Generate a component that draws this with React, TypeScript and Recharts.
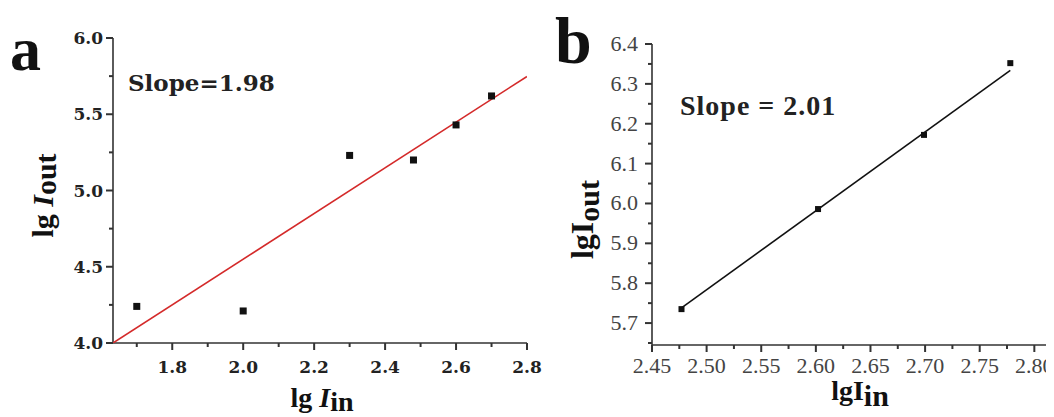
import React from 'react';
import { Label, Scatter, ScatterChart, XAxis, YAxis } from 'recharts';

// panel a: six measurements and the fitted red line
const aLgIn = [1.70, 2.00, 2.30, 2.48, 2.60, 2.70];
const aLgOut = [4.24, 4.21, 5.23, 5.20, 5.43, 5.62];
const aFitIn = [1.633, 2.8];
const aFitOut = [4.0, 5.748];
const aXMajor = [1.8, 2.0, 2.2, 2.4, 2.6, 2.8];
const aXMinor = [1.7, 1.9, 2.1, 2.3, 2.5, 2.7];
const aYMajor = [4.0, 4.5, 5.0, 5.5, 6.0];
const aYMinor = [4.25, 4.75, 5.25, 5.75];

// panel b: four measurements and the fitted black line
const bLgIn = [2.477, 2.602, 2.699, 2.778];
const bLgOut = [5.735, 5.986, 6.172, 6.352];
const bFitIn = [2.477, 2.778];
const bFitOut = [5.738, 6.334];
const bXMajor = [2.45, 2.5, 2.55, 2.6, 2.65, 2.7, 2.75, 2.8];
const bXMinor = [2.475, 2.525, 2.575, 2.625, 2.675, 2.725, 2.775];
const bYMajor = [5.7, 5.8, 5.9, 6.0, 6.1, 6.2, 6.3, 6.4];
const bYMinor = [5.65, 5.75, 5.85, 5.95, 6.05, 6.15, 6.25, 6.35];

const toPoints = (xs: number[], ys: number[]) => xs.map((x, i) => ({ x, y: ys[i] }));
const allTicks = (a: number[], b: number[]) => [...a, ...b].sort((p, q) => p - q);

const SERIF = '"Liberation Serif", "Times New Roman", serif';
const WIDE_SERIF = '"DejaVu Serif", serif';

// axis ticks are drawn by hand: the label sits right at the axis line (tickSize 0)
type TickStyle = {
  majors: number[];
  digits: number;
  font: string;
  size: number;
  weight: string | number;
  color: string;
  axisColor: string;
  gap: number;
  baseline: number;
};

const isIn = (list: number[], v: number) => list.some((m) => Math.abs(m - v) < 1e-6);

const bottomTick = (s: TickStyle) => (props: any) => {
  const { x, y, payload } = props;
  const major = isIn(s.majors, payload.value);
  const len = major ? 7 : 4;
  return (
    <g>
      <path d={`M${x},${y}V${y + len}`} stroke={s.axisColor} strokeWidth={2} fill="none" />
      {major && (
        <text x={x} y={y + s.baseline} textAnchor="middle" fontFamily={s.font} fontSize={s.size} fontWeight={s.weight} fill={s.color}>
          {payload.value.toFixed(s.digits)}
        </text>
      )}
    </g>
  );
};

const leftTick = (s: TickStyle) => (props: any) => {
  const { x, y, payload } = props;
  const major = isIn(s.majors, payload.value);
  const len = major ? 7 : 4;
  return (
    <g>
      <path d={`M${x},${y}H${x - len}`} stroke={s.axisColor} strokeWidth={2} fill="none" />
      {major && (
        <text x={x - s.gap} y={y + s.baseline} textAnchor="end" fontFamily={s.font} fontSize={s.size} fontWeight={s.weight} fill={s.color}>
          {payload.value.toFixed(s.digits)}
        </text>
      )}
    </g>
  );
};

const square = (side: number) => (props: any) => (
  <rect x={props.cx - side / 2} y={props.cy - side / 2} width={side} height={side} fill="#111" />
);

const noDot = () => <g />;

// horizontal axis title, e.g. lg I_in
const xTitle = (lead: string, italicI: boolean, sub: string, size: number, subSize: number, baseline: number, shift: number, subDy: number) =>
  (props: any) => {
    const { x, y, width } = props.viewBox;
    return (
      <text x={x + width / 2 + shift} y={y + baseline} textAnchor="middle" fontFamily={SERIF} fontWeight="bold" fontSize={size} fill="#111">
        <tspan>{lead}</tspan>
        <tspan fontStyle={italicI ? 'italic' : 'normal'}>I</tspan>
        <tspan dy={subDy} fontSize={subSize}>{sub}</tspan>
      </text>
    );
  };

// vertical axis title, rotated
const yTitle = (lead: string, italicI: boolean, sub: string, size: number, subSize: number, baseX: number, shift: number, subDy: number) =>
  (props: any) => {
    const { x, y, height } = props.viewBox;
    const cx = x + baseX;
    const cy = y + height / 2 + shift;
    return (
      <text x={cx} y={cy} transform={`rotate(-90, ${cx}, ${cy})`} textAnchor="middle" fontFamily={SERIF} fontWeight="bold" fontSize={size} fill="#111">
        <tspan>{lead}</tspan>
        <tspan fontStyle={italicI ? 'italic' : 'normal'}>I</tspan>
        <tspan dy={subDy} fontSize={subSize}>{sub}</tspan>
      </text>
    );
  };

const aTickStyle: TickStyle = {
  majors: [...aXMajor, ...aYMajor],
  digits: 1,
  font: WIDE_SERIF,
  size: 17,
  weight: 'bold',
  color: '#222',
  axisColor: '#333',
  gap: 10,
  baseline: 30,
};

const bTickStyle: TickStyle = {
  majors: [...bXMajor, ...bYMajor],
  digits: 2,
  font: SERIF,
  size: 22,
  weight: 'normal',
  color: '#444',
  axisColor: '#333',
  gap: 14,
  baseline: 28,
};

const aLine = { stroke: '#333', strokeWidth: 1.6 };
const bLine = { stroke: '#333', strokeWidth: 1.6 };

const PanelA = () => (
  <ScatterChart width={552} height={417} margin={{ top: 38, right: 25, bottom: 0, left: 0 }}>
    <XAxis
      type="number"
      dataKey="x"
      domain={[1.633, 2.8]}
      allowDataOverflow
      ticks={allTicks(aXMajor, aXMinor)}
      interval={0}
      height={74}
      tickSize={0}
      tickMargin={0}
      tickLine={false}
      axisLine={aLine}
      tick={bottomTick(aTickStyle)}
    >
      <Label content={xTitle('lg ', true, 'in', 28, 28, 64, 2, 4)} />
    </XAxis>
    <YAxis
      type="number"
      dataKey="y"
      domain={[4.0, 6.0]}
      allowDataOverflow
      ticks={allTicks(aYMajor, aYMinor)}
      interval={0}
      width={113}
      tickSize={0}
      tickMargin={0}
      tickLine={false}
      axisLine={aLine}
      tick={leftTick({ ...aTickStyle, gap: 10, baseline: 6 })}
    >
      <Label content={yTitle('lg ', true, 'out', 30, 30, 53, 5, 3)} />
    </YAxis>
    <Scatter
      data={toPoints(aFitIn, aFitOut)}
      line={{ stroke: '#d42a2a', strokeWidth: 1.6 }}
      shape={noDot}
      isAnimationActive={false}
    />
    <Scatter data={toPoints(aLgIn, aLgOut)} shape={square(7)} isAnimationActive={false} />
  </ScatterChart>
);

const PanelB = () => (
  <ScatterChart width={514} height={417} margin={{ top: 44, right: 0, bottom: 0, left: 0 }}>
    <XAxis
      type="number"
      dataKey="x"
      domain={[2.45, 2.818]}
      allowDataOverflow
      ticks={allTicks(bXMajor, bXMinor)}
      interval={0}
      height={72}
      tickSize={0}
      tickMargin={0}
      tickLine={false}
      axisLine={bLine}
      tick={bottomTick(bTickStyle)}
    >
      <Label content={xTitle('lg', false, 'in', 28, 30, 55, 7, 6)} />
    </XAxis>
    <YAxis
      type="number"
      dataKey="y"
      domain={[5.645, 6.4]}
      allowDataOverflow
      ticks={allTicks(bYMajor, bYMinor)}
      interval={0}
      width={112}
      tickSize={0}
      tickMargin={0}
      tickLine={false}
      axisLine={bLine}
      tick={leftTick({ ...bTickStyle, digits: 1, gap: 14, baseline: 7 })}
    >
      <Label content={yTitle('lg', false, 'out', 32, 30, 53, 25, 6)} />
    </YAxis>
    <Scatter
      data={toPoints(bFitIn, bFitOut)}
      line={{ stroke: '#111', strokeWidth: 1.6 }}
      shape={noDot}
      isAnimationActive={false}
    />
    <Scatter data={toPoints(bLgIn, bLgOut)} shape={square(6)} isAnimationActive={false} />
  </ScatterChart>
);

export default function App() {
  return (
    <div style={{ position: 'relative', width: 1054, height: 417, margin: '-8px 0 0 -8px', background: '#fff', overflow: 'hidden' }}>
      <div style={{ position: 'absolute', left: 0, top: 0 }}>
        <PanelA />
      </div>
      <div style={{ position: 'absolute', left: 540, top: 0 }}>
        <PanelB />
      </div>
      <svg width={1054} height={417} style={{ position: 'absolute', left: 0, top: 0, pointerEvents: 'none' }}>
        <text x={10} y={70} fontFamily={SERIF} fontWeight="bold" fontSize={62} fill="#111">a</text>
        <text x={555} y={63} fontFamily={SERIF} fontWeight="bold" fontSize={66} fill="#111">b</text>
        <text x={128} y={91} fontFamily={WIDE_SERIF} fontWeight="bold" fontSize={23} fill="#222">Slope=1.98</text>
        <text x={680} y={115} fontFamily={SERIF} fontWeight="bold" fontSize={28} letterSpacing={1} fill="#222">Slope = 2.01</text>
      </svg>
    </div>
  );
}
